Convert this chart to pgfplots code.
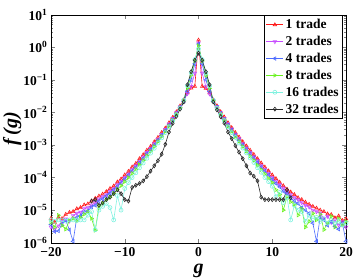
\documentclass[border=0pt]{standalone}
\usepackage{fontspec}
\setmainfont{Liberation Serif}
\usepackage{pgfplots}
\pgfplotsset{compat=1.18}
\definecolor{cr}{rgb}{1,0.1,0.1}
\definecolor{cm}{rgb}{0.78,0.3,1}
\definecolor{cb}{rgb}{0.3,0.42,1}
\definecolor{cg}{rgb}{0.42,0.95,0.12}
\definecolor{cc}{rgb}{0.5,0.95,0.88}
\definecolor{ck}{rgb}{0.15,0.15,0.15}
\begin{document}
\begin{tikzpicture}
\begin{axis}[name=ax,
  scale only axis, width=295pt, height=228pt,
  ymode=log, xmin=-20, xmax=20, ymin=1e-6, ymax=10,
  xtick={-20,-10,0,10,20},
  xticklabels={−20,−10,0,10,20},
  ytick={1e-6,1e-5,1e-4,1e-3,1e-2,1e-1,1,10},
  yticklabels={10\textsuperscript{−6},10\textsuperscript{−5},10\textsuperscript{−4},10\textsuperscript{−3},10\textsuperscript{−2},10\textsuperscript{−1},10\textsuperscript{0},10\textsuperscript{1}},
  tick label style={font=\bfseries\fontsize{13.5}{15}\selectfont},
  xticklabel style={yshift=-1pt},
  xlabel={\bfseries\itshape g}, ylabel={\bfseries\itshape f\,(g)},
  label style={font=\fontsize{20}{22}\selectfont},
  xlabel style={yshift=-1pt},
  ylabel style={yshift=-5pt},
  tick align=inside, major tick length=4pt, minor tick length=2pt,
  every axis plot/.append style={line width=0.6pt, mark size=2pt},
  legend style={at={(rel axis cs:0.989,0.998)}, anchor=north east, font=\bfseries\fontsize{13.5}{14}\selectfont, draw=black, fill=white, row sep=2pt, inner sep=2pt},
  legend cell align=left,
]
\addplot[color=cr, mark=triangle] coordinates {(-20,5.6e-6)(-19.5,4.2e-6)(-19,6.0e-6)(-18.5,5.5e-6)(-18,7.4e-6)(-17.5,8.5e-6)(-17,9.0e-6)(-16.5,1.1e-5)(-16,1.2e-5)(-15.5,1.45e-5)(-15,1.55e-5)(-14.5,1.9e-5)(-14,2.3e-5)(-13.5,2.7e-5)(-13,3.1e-5)(-12.5,3.7e-5)(-12,4.6e-5)(-11.5,5.5e-5)(-11,7.3e-5)(-10.5,9.0e-5)(-10,1.2e-4)(-9.5,1.55e-4)(-9,2.1e-4)(-8.5,2.7e-4)(-8,3.8e-4)(-7.5,5.0e-4)(-7,6.9e-4)(-6.5,9.0e-4)(-6,1.25e-3)(-5.5,1.7e-3)(-5,2.4e-3)(-4.5,3.3e-3)(-4,4.8e-3)(-3.5,7.0e-3)(-3,1.04e-2)(-2.5,1.58e-2)(-2,2.4e-2)(-1.5,4.0e-2)(-1,5.6e-2)(-0.5,6.3e-2)(0,1.66)(0.5,6.3e-2)(1,5.5e-2)(1.5,4.0e-2)(2,2.4e-2)(2.5,1.6e-2)(3,1.05e-2)(3.5,7.2e-3)(4,4.8e-3)(4.5,3.4e-3)(5,2.4e-3)(5.5,1.75e-3)(6,1.26e-3)(6.5,9.3e-4)(7,6.9e-4)(7.5,5.1e-4)(8,3.8e-4)(8.5,2.8e-4)(9,2.1e-4)(9.5,1.6e-4)(10,1.2e-4)(10.5,9.3e-5)(11,7.2e-5)(11.5,5.6e-5)(12,4.4e-5)(12.5,3.6e-5)(13,3.0e-5)(13.5,2.4e-5)(14,2.1e-5)(14.5,1.75e-5)(15,1.5e-5)(15.5,1.3e-5)(16,1.15e-5)(16.5,1.0e-5)(17,9.0e-6)(17.5,7.6e-6)(18,7.3e-6)(18.5,5.8e-6)(19,6.6e-6)(19.5,4.8e-6)(20,5.4e-6)};
\addlegendentry{1 trade}
\addplot[color=cm, mark=triangle, mark options={rotate=180}] coordinates {(-20,3.0e-6)(-19.5,2.6e-6)(-19,3.3e-6)(-18.5,4.5e-6)(-18,5.4e-6)(-17.5,4.6e-6)(-17,6.8e-6)(-16.5,8.0e-6)(-16,8.6e-6)(-15.5,1.1e-5)(-15,1.2e-5)(-14.5,1.45e-5)(-14,1.7e-5)(-13.5,2.2e-5)(-13,2.6e-5)(-12.5,3.0e-5)(-12,3.8e-5)(-11.5,4.6e-5)(-11,6.0e-5)(-10.5,7.6e-5)(-10,1.0e-4)(-9.5,1.3e-4)(-9,1.75e-4)(-8.5,2.3e-4)(-8,3.2e-4)(-7.5,4.3e-4)(-7,5.9e-4)(-6.5,7.9e-4)(-6,1.1e-3)(-5.5,1.5e-3)(-5,2.1e-3)(-4.5,3.0e-3)(-4,4.4e-3)(-3.5,6.5e-3)(-3,9.8e-3)(-2.5,1.5e-2)(-2,2.3e-2)(-1.5,3.8e-2)(-1,6.3e-2)(-0.5,0.16)(0,1.35)(0.5,0.16)(1,6.2e-2)(1.5,3.7e-2)(2,2.3e-2)(2.5,1.52e-2)(3,9.9e-3)(3.5,6.6e-3)(4,4.4e-3)(4.5,3.1e-3)(5,2.15e-3)(5.5,1.55e-3)(6,1.1e-3)(6.5,8.1e-4)(7,6.0e-4)(7.5,4.4e-4)(8,3.3e-4)(8.5,2.4e-4)(9,1.8e-4)(9.5,1.35e-4)(10,1.0e-4)(10.5,7.8e-5)(11,6.0e-5)(11.5,4.8e-5)(12,3.6e-5)(12.5,3.0e-5)(13,2.4e-5)(13.5,2.1e-5)(14,1.7e-5)(14.5,1.4e-5)(15,1.25e-5)(15.5,1.0e-5)(16,9.0e-6)(16.5,8.0e-6)(17,5.5e-6)(17.5,6.5e-6)(18,4.2e-6)(18.5,5.0e-6)(19,3.5e-6)(19.5,4.4e-6)(20,3.0e-6)};
\addlegendentry{2 trades}
\addplot[color=cb, mark=triangle, mark options={rotate=90}] coordinates {(-20,3.6e-6)(-19.5,2.2e-6)(-19,2.3e-6)(-18.5,3.8e-6)(-18,4.8e-6)(-17.5,2.5e-6)(-17,1.1e-6)(-16.5,6.0e-6)(-16,6.8e-6)(-15.5,8.8e-6)(-15,9.5e-6)(-14.5,1.25e-5)(-14,1.4e-5)(-13.5,1.9e-5)(-13,2.2e-5)(-12.5,2.7e-5)(-12,3.3e-5)(-11.5,4.2e-5)(-11,5.4e-5)(-10.5,6.8e-5)(-10,9.0e-5)(-9.5,1.2e-4)(-9,1.6e-4)(-8.5,2.1e-4)(-8,2.9e-4)(-7.5,3.9e-4)(-7,5.4e-4)(-6.5,7.3e-4)(-6,1.0e-3)(-5.5,1.4e-3)(-5,2.0e-3)(-4.5,2.8e-3)(-4,4.1e-3)(-3.5,6.1e-3)(-3,9.3e-3)(-2.5,1.45e-2)(-2,2.2e-2)(-1.5,4.5e-2)(-1,0.10)(-0.5,0.31)(0,1.26)(0.5,0.31)(1,0.10)(1.5,4.4e-2)(2,2.2e-2)(2.5,1.46e-2)(3,9.4e-3)(3.5,6.2e-3)(4,4.1e-3)(4.5,2.9e-3)(5,2.0e-3)(5.5,1.4e-3)(6,1.0e-3)(6.5,7.4e-4)(7,5.4e-4)(7.5,4.0e-4)(8,2.9e-4)(8.5,2.1e-4)(9,1.6e-4)(9.5,1.2e-4)(10,8.8e-5)(10.5,6.6e-5)(11,5.2e-5)(11.5,3.8e-5)(12,3.2e-5)(12.5,2.4e-5)(13,1.9e-5)(13.5,1.6e-5)(14,1.2e-5)(14.5,1.0e-5)(15,8.0e-6)(15.5,4.0e-6)(16,1.1e-6)(16.5,6.0e-6)(17,5.0e-6)(17.5,3.4e-6)(18,4.4e-6)(18.5,3.2e-6)(19,2.6e-6)(19.5,4.0e-6)(20,1.1e-6)};
\addlegendentry{4 trades}
\addplot[color=cg, mark=triangle, mark options={rotate=-90}] coordinates {(-20,4.2e-6)(-19.5,3.0e-6)(-19,7.0e-6)(-18.5,3.4e-6)(-18,2.6e-6)(-17.5,4.8e-6)(-17,5.6e-6)(-16.5,4.6e-6)(-16,6.0e-6)(-15.5,7.5e-6)(-15,9.0e-6)(-14.5,5.5e-6)(-14,2.4e-6)(-13.5,1.3e-5)(-13,1.6e-5)(-12.5,2.1e-5)(-12,2.5e-5)(-11.5,3.3e-5)(-11,4.4e-5)(-10.5,5.6e-5)(-10,7.5e-5)(-9.5,1.0e-4)(-9,1.35e-4)(-8.5,1.8e-4)(-8,2.5e-4)(-7.5,3.4e-4)(-7,4.7e-4)(-6.5,6.5e-4)(-6,9.0e-4)(-5.5,1.28e-3)(-5,1.85e-3)(-4.5,2.6e-3)(-4,3.8e-3)(-3.5,5.8e-3)(-3,8.9e-3)(-2.5,1.4e-2)(-2,2.3e-2)(-1.5,5.6e-2)(-1,0.14)(-0.5,0.38)(0,1.12)(0.5,0.38)(1,0.14)(1.5,5.5e-2)(2,2.3e-2)(2.5,1.4e-2)(3,9.0e-3)(3.5,5.9e-3)(4,3.8e-3)(4.5,2.6e-3)(5,1.8e-3)(5.5,1.3e-3)(6,9.0e-4)(6.5,6.5e-4)(7,4.6e-4)(7.5,3.4e-4)(8,2.4e-4)(8.5,1.75e-4)(9,1.3e-4)(9.5,9.5e-5)(10,7.0e-5)(10.5,4.2e-5)(11,3.0e-5)(11.5,1.0e-5)(12,2.6e-5)(12.5,1.8e-5)(13,1.5e-5)(13.5,7.0e-6)(14,1.1e-5)(14.5,3.0e-6)(15,4.5e-6)(15.5,8.0e-6)(16,5.0e-6)(16.5,7.5e-6)(17,2.5e-6)(17.5,4.0e-6)(18,6.5e-6)(18.5,3.0e-6)(19,5.5e-6)(19.5,3.5e-6)(20,4.5e-6)};
\addlegendentry{8 trades}
\addplot[color=cc, mark=o] coordinates {(-20,5.0e-6)(-19.5,4.5e-6)(-19,5.0e-6)(-18.5,5.0e-6)(-18,4.6e-6)(-17.5,5.0e-6)(-17,5.0e-6)(-16.5,4.8e-6)(-16,5.0e-6)(-15.5,5.0e-6)(-15,7.0e-6)(-14.5,9.0e-6)(-14,2.5e-6)(-13.5,1.0e-5)(-13,1.3e-5)(-12.5,1.6e-5)(-12,1.2e-5)(-11.5,5.0e-6)(-11,2.8e-5)(-10.5,1.0e-5)(-10,4.6e-5)(-9.5,7.0e-5)(-9,1.0e-4)(-8.5,1.4e-4)(-8,2.0e-4)(-7.5,2.8e-4)(-7,3.9e-4)(-6.5,5.6e-4)(-6,7.9e-4)(-5.5,1.15e-3)(-5,1.65e-3)(-4.5,2.4e-3)(-4,3.6e-3)(-3.5,5.5e-3)(-3,8.5e-3)(-2.5,1.35e-2)(-2,2.4e-2)(-1.5,6.6e-2)(-1,0.166)(-0.5,0.42)(0,0.89)(0.5,0.42)(1,0.165)(1.5,6.5e-2)(2,2.4e-2)(2.5,1.35e-2)(3,8.5e-3)(3.5,5.6e-3)(4,3.6e-3)(4.5,2.4e-3)(5,1.7e-3)(5.5,1.15e-3)(6,8.0e-4)(6.5,5.7e-4)(7,4.0e-4)(7.5,2.9e-4)(8,2.0e-4)(8.5,1.45e-4)(9,1.0e-4)(9.5,7.5e-5)(10,5.4e-5)(10.5,2.6e-5)(11,3.5e-5)(11.5,1.7e-5)(12,2.5e-5)(12.5,5.0e-6)(13,1.4e-5)(13.5,1.0e-5)(14,9.0e-6)(14.5,4.5e-6)(15,7.0e-6)(15.5,5.5e-6)(16,6.0e-6)(16.5,4.5e-6)(17,5.5e-6)(17.5,4.0e-6)(18,5.0e-6)(18.5,4.0e-6)(19,4.5e-6)(19.5,3.5e-6)(20,4.0e-6)};
\addlegendentry{16 trades}
\addplot[color=ck, mark=diamond] coordinates {(-14.5,1.9e-5)(-14,2.1e-5)(-13.5,1.41e-5)(-13,1.66e-5)(-12.5,2.1e-5)(-12,2.5e-5)(-11.5,3.2e-5)(-11,4.2e-5)(-10.5,3.2e-5)(-10,2.1e-5)(-9.5,1.9e-5)(-9,5.0e-5)(-8.5,5.8e-5)(-8,6.6e-5)(-7.5,7.9e-5)(-7,1.07e-4)(-6.5,1.58e-4)(-6,2.3e-4)(-5.5,3.3e-4)(-5,5.2e-4)(-4.5,1.05e-3)(-4,2.5e-3)(-3.5,4.6e-3)(-3,7.6e-3)(-2.5,1.26e-2)(-2,2.1e-2)(-1.5,7.1e-2)(-1,0.178)(-0.5,0.40)(0,0.66)(0.5,0.40)(1,0.178)(1.5,7.1e-2)(2,2.1e-2)(2.5,1.2e-2)(3,7.4e-3)(3.5,4.7e-3)(4,2.5e-3)(4.5,1.58e-3)(5,9.5e-4)(5.5,6.0e-4)(6,3.8e-4)(6.5,2.3e-4)(7,1.38e-4)(7.5,1.1e-4)(8,7.9e-5)(8.5,2.5e-5)(9,2.1e-5)(9.5,2.1e-5)(10,2.1e-5)(10.5,2.1e-5)(11,2.1e-5)(11.5,2.1e-5)(12,4.2e-5)(12.5,2.4e-5)};
\addlegendentry{32 trades}
\end{axis}
\pgfresetboundingbox
\path ([shift={(-51pt,-37pt)}]ax.south west) rectangle ([shift={(8pt,14.7pt)}]ax.north east);
\end{tikzpicture}
\end{document}
